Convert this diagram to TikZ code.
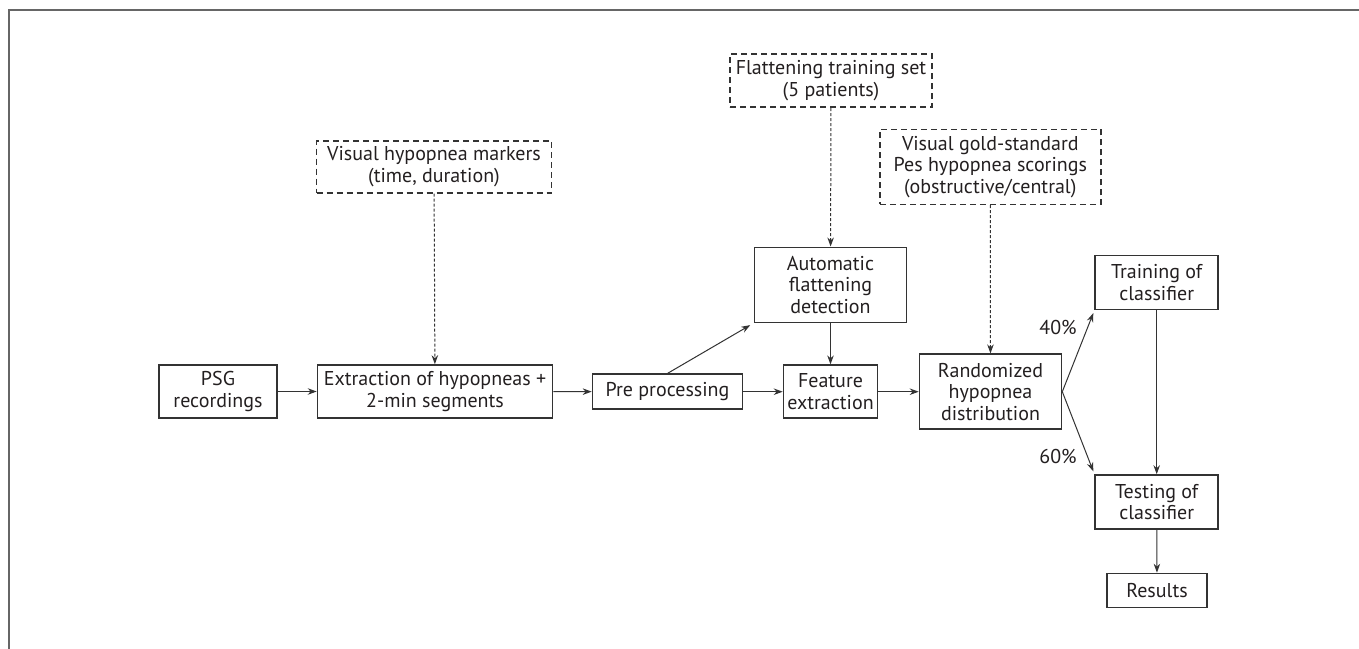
\documentclass[tikz,border=0pt]{standalone}
\usepackage{fontspec}
\setmainfont{PT Sans}
\usetikzlibrary{arrows.meta}
\definecolor{txt}{HTML}{231F20}
\definecolor{ln}{HTML}{333333}
\definecolor{frm}{HTML}{666666}
\begin{document}
\begin{tikzpicture}[x=1pt,y=-1pt,
  every node/.style={font=\fontsize{20}{21.5}\selectfont, text=txt, align=center, inner sep=0pt},
  box/.style={draw=ln, line width=1.6pt, rectangle},
  dbox/.style={box, dash pattern=on 6pt off 4pt},
  arr/.style={draw=ln, line width=1pt, -{Stealth[length=9pt,width=6.5pt]}},
  darr/.style={arr, dash pattern=on 3pt off 2pt}]
\clip (0,0) rectangle (1359,648);
\draw[frm, line width=2pt] (9,10) rectangle (1420,720);
\node[box, minimum width=118pt, minimum height=53pt] (psg) at (218,391.5) {PSG\\recordings};
\node[box, minimum width=235pt, minimum height=53pt] (extr) at (435,391.5) {Extraction of hypopneas +\\2-min segments};
\node[box, minimum width=150pt, minimum height=35pt] (pre) at (667.5,391.7) {Pre processing};
\node[box, minimum width=94pt, minimum height=53pt] (feat) at (830.5,391.7) {Feature\\extraction};
\node[box, minimum width=152pt, minimum height=75pt] (auto) at (830.5,284.8) {Automatic\\flattening\\detection};
\node[dbox, minimum width=202pt, minimum height=53pt] (flat) at (831,80.7) {Flattening training set\\(5 patients)};
\node[dbox, minimum width=235pt, minimum height=52pt] (vhm) at (434,166.7) {Visual hypopnea markers\\(time, duration)};
\node[dbox, minimum width=221pt, minimum height=75pt] (gold) at (990.3,166.8) {Visual gold-standard\\Pes hypopnea scorings\\(obstructive/central)};
\node[box, minimum width=142pt, minimum height=75pt] (rand) at (990.5,391.7) {Randomized\\hypopnea\\distribution};
\node[box, minimum width=123pt, minimum height=54pt] (train) at (1156.7,282.5) {Training of\\classifier};
\node[box, minimum width=123pt, minimum height=54pt] (test) at (1156.7,502) {Testing of\\classifier};
\node[box, minimum width=100pt, minimum height=34pt] (res) at (1157,590.5) {Results};
\node (p40) at (1058,327) {40\%};
\node (p60) at (1058,456) {60\%};
\draw[arr] (psg) -- (extr);
\draw[arr] (extr) -- (pre);
\draw[arr] (pre) -- (feat);
\draw[arr] (feat) -- (rand);
\draw[arr] (auto) -- (feat);
\draw[arr, shorten >=4pt] (pre.north) -- (auto.south west);
\draw[darr] (vhm) -- (extr);
\draw[darr] (flat) -- (auto);
\draw[darr] (gold) -- (rand);
\draw[arr, shorten >=3pt] (rand.east) -- (train.south west);
\draw[arr, shorten >=3pt] (rand.east) -- (test.north west);
\draw[arr] (train) -- (test);
\draw[arr] (test) -- (res);
\end{tikzpicture}
\end{document}
